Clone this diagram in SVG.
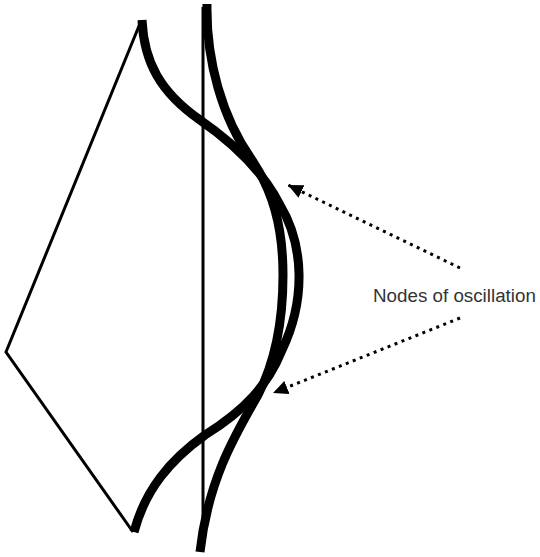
<svg xmlns="http://www.w3.org/2000/svg" width="540" height="557" viewBox="0 0 540 557">
<defs>
<style>
.thin{fill:none;stroke:#000;stroke-width:3;stroke-linejoin:miter}
.thick{fill:none;stroke:#000;stroke-width:9;stroke-linecap:butt}
.dots{fill:none;stroke:#000;stroke-width:3;stroke-dasharray:3 4.5}
.label{font-family:"Liberation Sans",Arial,sans-serif;font-size:18.8px;fill:#333}
</style>
<marker id="ah" markerUnits="userSpaceOnUse" markerWidth="18" markerHeight="16" refX="15" refY="7" orient="auto">
<path d="M0,0 L15,7 L0,14 Z" fill="#000"/>
</marker>
</defs>
<rect width="540" height="557" fill="#fff"/>
<g id="axis">
<line class="thin" x1="203" y1="7" x2="203" y2="542"/>
</g>
<g id="fold-outline">
<polyline class="thin" points="141,21 6,352 133,532"/>
</g>
<g id="curve-a">
<path class="thick" d="M142,20 C144,62 160,92 200,120 C232,142 262,170 280,205 C304,245 306,300 282,350 C268,385 245,410 205,435 C170,460 145,490 134,532"/>
</g>
<g id="curve-b">
<path class="thick" d="M207,4 C206,60 222,118 252,160 C272,190 283,225 283,275 C283,320 276,360 258,395 C235,435 208,480 200,552"/>
</g>
<g id="connectors">
<line class="dots" x1="460" y1="268" x2="288" y2="185" marker-end="url(#ah)"/>
<line class="dots" x1="460" y1="318" x2="273" y2="393" marker-end="url(#ah)"/>
</g>
<g id="label">
<text class="label" x="373" y="302">Nodes of oscillation</text>
</g>
</svg>
